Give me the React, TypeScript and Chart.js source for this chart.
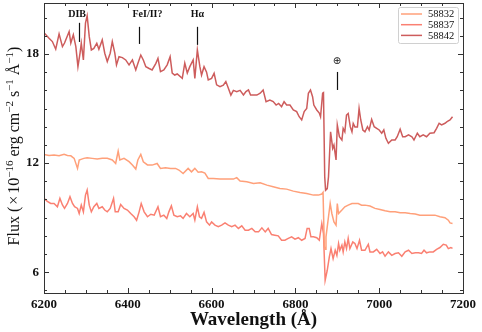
import React, { useEffect, useRef } from "react";
import { Chart, registerables } from "chart.js";

Chart.register(...registerables);

// ---------------- data ----------------
const SERIES_LABELS = ["58832", "58837", "58842"];
const SERIES_COLORS = ["#FFA07A", "#FA8072", "#CD5C5C"];

const WL_58832 = [
  6200, 6212, 6224, 6236, 6248, 6256, 6264, 6272, 6280, 6284, 6290, 6295, 6303, 6315, 6327, 6339, 6351, 6363,
  6371, 6377, 6381, 6391, 6403, 6411, 6419, 6424, 6431, 6437, 6447, 6458, 6470, 6478, 6490, 6502, 6514, 6522,
  6532, 6544, 6552, 6560, 6568, 6576, 6584, 6592, 6604, 6620, 6636, 6652, 6660, 6668, 6684, 6700, 6716, 6732,
  6747, 6763, 6779, 6795, 6811, 6827, 6843, 6855, 6863, 6866, 6869, 6871, 6873, 6879, 6883, 6887, 6892, 6897,
  6900, 6903, 6911, 6918, 6926, 6935, 6942, 6950, 6958, 6966, 6978, 6990, 7002, 7014, 7026, 7038, 7050, 7062,
  7074, 7086, 7097, 7109, 7121, 7133, 7145, 7157, 7165, 7169, 7175,
];
const FLUX_58832 = [
  12.48, 12.42, 12.44, 12.4, 12.48, 12.42, 12.4, 12.26, 11.71, 12.17, 12.22, 12.26, 12.3, 12.26, 12.22, 12.26,
  12.26, 12.17, 11.98, 12.66, 12.17, 12.26, 12.08, 11.89, 11.67, 12.17, 12.48, 12.07, 11.9, 11.89, 11.98, 11.71,
  11.75, 11.71, 11.71, 11.62, 11.43, 11.71, 11.52, 11.71, 11.5, 11.52, 11.45, 11.16, 11.16, 11.12, 11.12, 11.12,
  11.2, 11.01, 10.97, 10.88, 10.92, 10.79, 10.7, 10.61, 10.57, 10.46, 10.39, 10.33, 10.24, 10.24, 10.3, 10.39,
  7.4, 7.27, 7.95, 9.05, 9.78, 9.23, 8.77, 8.59, 9.78, 9.23, 9.42, 9.6, 9.69, 9.78, 9.78, 9.78, 9.69, 9.69, 9.64,
  9.51, 9.45, 9.38, 9.33, 9.33, 9.27, 9.27, 9.23, 9.2, 9.14, 9.14, 9.14, 9.14, 9.05, 9.0, 8.86, 8.71, 8.68,
];

const WL_58837 = [
  6200, 6208, 6216, 6224, 6232, 6238, 6244, 6249, 6256, 6262, 6268, 6273, 6280, 6284, 6289, 6294, 6299, 6303,
  6308, 6313, 6319, 6326, 6331, 6339, 6345, 6351, 6358, 6366, 6370, 6377, 6383, 6391, 6399, 6407, 6415, 6421,
  6427, 6432, 6439, 6447, 6455, 6463, 6472, 6478, 6486, 6493, 6498, 6504, 6510, 6518, 6526, 6532, 6540, 6548,
  6556, 6560, 6566, 6571, 6576, 6582, 6588, 6595, 6600, 6608, 6616, 6624, 6632, 6640, 6648, 6656, 6664, 6672,
  6680, 6688, 6696, 6704, 6712, 6720, 6728, 6735, 6743, 6751, 6759, 6767, 6775, 6783, 6791, 6799, 6807, 6815,
  6823, 6828, 6833, 6837, 6843, 6851, 6857, 6863, 6867, 6871, 6876, 6881, 6885, 6890, 6895, 6899, 6903, 6906,
  6911, 6914, 6918, 6922, 6926, 6930, 6937, 6942, 6947, 6953, 6958, 6966, 6974, 6978, 6986, 6994, 7002, 7008,
  7014, 7022, 7030, 7038, 7046, 7054, 7062, 7070, 7078, 7086, 7094, 7101, 7107, 7113, 7121, 7129, 7137, 7145,
  7153, 7160, 7165, 7171, 7175,
];
const FLUX_58837 = [
  10.06, 9.9, 9.78, 9.78, 9.6, 10.06, 9.7, 9.51, 9.78, 10.15, 9.78, 9.6, 9.51, 9.23, 9.69, 9.32, 10.24, 10.52,
  9.69, 9.32, 9.6, 9.78, 9.51, 9.6, 9.42, 9.32, 9.51, 10.06, 9.32, 9.32, 9.73, 9.51, 9.42, 9.23, 9.05, 8.86,
  9.32, 9.78, 9.32, 9.05, 9.19, 9.14, 9.6, 9.05, 9.14, 8.96, 9.32, 9.65, 9.14, 9.05, 9.1, 8.96, 9.23, 9.05,
  9.23, 8.87, 9.6, 9.05, 8.96, 9.29, 8.77, 8.59, 8.77, 8.59, 8.5, 8.59, 8.71, 8.59, 8.5, 8.59, 8.41, 8.55,
  8.31, 8.31, 8.41, 8.22, 8.22, 8.44, 8.22, 8.41, 8.07, 8.04, 8.0, 7.76, 7.76, 7.86, 7.95, 7.82, 7.9, 7.76,
  7.86, 8.41, 8.41, 7.95, 7.95, 7.9, 7.76, 8.68, 8.13, 5.56, 6.11, 6.84, 7.3, 6.75, 7.21, 6.93, 7.58, 7.21,
  7.49, 7.12, 7.67, 7.3, 7.86, 7.3, 7.67, 7.58, 7.3, 7.76, 7.21, 7.21, 7.54, 7.12, 7.12, 7.26, 7.03, 7.12,
  6.88, 7.12, 6.93, 7.03, 7.07, 6.88, 7.12, 7.21, 7.03, 7.07, 7.07, 7.03, 7.21, 7.07, 7.12, 7.12, 7.26, 7.36,
  7.54, 7.49, 7.3, 7.36, 7.31,
];

const WL_58842 = [
  6200, 6212, 6220, 6228, 6236, 6244, 6249, 6260, 6264, 6270, 6276, 6281, 6286, 6289, 6294, 6299, 6303, 6308,
  6313, 6319, 6326, 6331, 6339, 6345, 6351, 6358, 6363, 6369, 6373, 6379, 6387, 6395, 6403, 6411, 6419, 6424,
  6431, 6437, 6443, 6451, 6458, 6467, 6472, 6478, 6486, 6494, 6501, 6506, 6512, 6518, 6530, 6536, 6542, 6548,
  6556, 6560, 6566, 6572, 6576, 6582, 6588, 6592, 6600, 6606, 6612, 6620, 6628, 6634, 6640, 6646, 6652, 6660,
  6668, 6676, 6682, 6688, 6693, 6700, 6708, 6716, 6723, 6730, 6739, 6747, 6754, 6760, 6767, 6773, 6779, 6787,
  6795, 6803, 6809, 6815, 6821, 6827, 6831, 6836, 6841, 6844, 6851, 6857, 6860, 6865, 6867, 6870, 6872, 6876,
  6879, 6884, 6889, 6892, 6897, 6900, 6905, 6911, 6914, 6918, 6922, 6926, 6931, 6935, 6938, 6942, 6948, 6952,
  6956, 6961, 6966, 6972, 6976, 6982, 6988, 6994, 7000, 7006, 7011, 7016, 7022, 7030, 7038, 7043, 7050, 7056,
  7062, 7070, 7078, 7083, 7091, 7097, 7105, 7113, 7121, 7131, 7137, 7143, 7149, 7157, 7162, 7169, 7175,
];
const FLUX_58842 = [
  19.17, 18.86, 18.68, 18.26, 19.1, 18.4, 18.6, 19.23, 18.6, 19.05, 18.4, 17.3, 18.04, 18.59, 17.67, 19.69,
  20.09, 18.95, 18.22, 18.3, 18.59, 18.26, 18.77, 18.04, 17.58, 18.04, 18.68, 18.04, 17.4, 17.85, 17.8, 17.67,
  17.4, 17.67, 17.12, 17.48, 17.94, 17.67, 17.3, 17.2, 17.12, 17.48, 17.76, 17.03, 17.12, 17.4, 17.85, 16.95,
  16.84, 16.9, 16.66, 17.49, 16.95, 17.3, 17.67, 16.66, 18.22, 17.3, 16.84, 17.3, 17.0, 16.57, 16.66, 16.94,
  16.3, 16.2, 16.28, 16.48, 16.11, 15.74, 16.0, 15.93, 16.0, 15.74, 15.93, 16.02, 15.74, 15.74, 15.74, 15.84,
  16.02, 15.38, 15.47, 15.38, 15.19, 15.28, 15.1, 15.38, 15.19, 15.19, 14.92, 14.83, 14.55, 14.37, 14.83, 15.0,
  15.84, 16.02, 15.65, 15.19, 14.92, 14.75, 14.55, 15.84, 15.87, 11.25, 10.51, 10.6, 11.25, 13.72, 12.81, 12.99,
  12.17, 14.09, 13.45, 13.27, 13.91, 13.72, 14.64, 14.73, 13.99, 13.72, 14.18, 13.99, 13.99, 15.01, 14.37, 13.82,
  13.72, 14.0, 13.82, 14.4, 14.0, 13.91, 13.82, 13.64, 13.82, 13.36, 13.09, 13.27, 13.27, 13.45, 13.86, 13.45,
  13.45, 13.55, 13.45, 13.27, 13.64, 13.45, 13.55, 13.45, 13.64, 13.67, 13.91, 14.19, 14.1, 14.19, 14.28, 14.37,
  14.55,
];

const X_MIN = 6200;
const X_MAX = 7200;
const Y_MIN = 4.86;
const Y_MAX = 20.8;
const X_MAJOR = [6200, 6400, 6600, 6800, 7000, 7200];
const Y_MAJOR = [6, 12, 18];
const X_MINOR_STEP = 50;
const Y_MINOR_STEP = 1;

// feature markers (text position, marker line position in data units)
const MARK_TEXT = ["DIB", "FeI/II?", "H\u03B1", "\u2295"];
const MARK_TEXT_X = [6279, 6447, 6566, 6899];
const MARK_TEXT_Y = [20.15, 20.15, 20.15, 17.61];
const MARK_LINE_X = [6284, 6427, 6565, 6899];
const MARK_LINE_Y0 = [18.66, 18.55, 18.5, 16.02];
const MARK_LINE_Y1 = [19.71, 19.49, 19.49, 17.01];

const SERIES_WL = [WL_58832, WL_58837, WL_58842];
const SERIES_FLUX = [FLUX_58832, FLUX_58837, FLUX_58842];

const SERIF = "'Liberation Serif', 'Times New Roman', serif";

const decorPlugin = {
  id: "decor",
  afterDraw(chart: any) {
    const { ctx, chartArea: a, scales } = chart;
    const xs = scales.x;
    const ys = scales.y;
    ctx.save();

    // frame
    ctx.strokeStyle = "#333";
    ctx.lineWidth = 1;
    ctx.strokeRect(Math.round(a.left) + 0.5, Math.round(a.top) + 0.5, Math.round(a.right - a.left), Math.round(a.bottom - a.top));

    // inward ticks on all four sides
    ctx.beginPath();
    for (let v = X_MIN; v <= X_MAX; v += X_MINOR_STEP) {
      const px = Math.round(xs.getPixelForValue(v)) + 0.5;
      const len = X_MAJOR.includes(v) ? 5 : 3;
      ctx.moveTo(px, a.bottom);
      ctx.lineTo(px, a.bottom - len);
      ctx.moveTo(px, a.top);
      ctx.lineTo(px, a.top + len);
    }
    for (let v = Math.ceil(Y_MIN); v <= Y_MAX; v += Y_MINOR_STEP) {
      const py = Math.round(ys.getPixelForValue(v)) + 0.5;
      const len = Y_MAJOR.includes(v) ? 5 : 3;
      ctx.moveTo(a.left, py);
      ctx.lineTo(a.left + len, py);
      ctx.moveTo(a.right, py);
      ctx.lineTo(a.right - len, py);
    }
    ctx.stroke();

    // feature markers
    ctx.fillStyle = "#111";
    ctx.strokeStyle = "#111";
    ctx.lineWidth = 1.2;
    ctx.textAlign = "center";
    ctx.textBaseline = "middle";
    for (let i = 0; i < MARK_TEXT.length; i++) {
      const isEarth = MARK_TEXT[i] === "\u2295";
      ctx.font = isEarth ? "10px 'DejaVu Sans', sans-serif" : `bold 10px ${SERIF}`;
      ctx.fillText(MARK_TEXT[i], xs.getPixelForValue(MARK_TEXT_X[i]), ys.getPixelForValue(MARK_TEXT_Y[i]));
      const lx = Math.round(xs.getPixelForValue(MARK_LINE_X[i])) + 0.5;
      ctx.beginPath();
      ctx.moveTo(lx, ys.getPixelForValue(MARK_LINE_Y0[i]));
      ctx.lineTo(lx, ys.getPixelForValue(MARK_LINE_Y1[i]));
      ctx.stroke();
    }

    // legend (upper right)
    const bw = 60;
    const bh = 36;
    const bx = a.right - 5 - bw;
    const by = a.top + 4;
    ctx.beginPath();
    ctx.roundRect(bx + 0.5, by + 0.5, bw, bh, 2);
    ctx.fillStyle = "rgba(255,255,255,0.85)";
    ctx.fill();
    ctx.strokeStyle = "#d0d0d0";
    ctx.lineWidth = 1;
    ctx.stroke();
    ctx.font = `10.5px ${SERIF}`;
    ctx.textAlign = "left";
    ctx.textBaseline = "middle";
    chart.data.datasets.forEach((ds: any, i: number) => {
      const ry = by + 7 + i * 10.7;
      ctx.strokeStyle = ds.borderColor;
      ctx.lineWidth = 1.5;
      ctx.beginPath();
      ctx.moveTo(bx + 3, ry);
      ctx.lineTo(bx + 24, ry);
      ctx.stroke();
      ctx.fillStyle = "#111";
      ctx.fillText(ds.label, bx + 30, ry + 0.5);
    });

    // x axis title
    ctx.fillStyle = "#111";
    ctx.font = `bold 19px ${SERIF}`;
    ctx.textAlign = "center";
    ctx.textBaseline = "middle";
    ctx.fillText("Wavelength (\u00C5)", (a.left + a.right) / 2, 320);

    // y axis title with superscripts
    const segs: { t: string; sup?: boolean; pad?: number }[] = [
      { t: "Flux (" },
      { t: "\u00D7", pad: 2 },
      { t: "10" },
      { t: "\u221216", sup: true },
      { t: " erg cm" },
      { t: "\u22122", sup: true },
      { t: " s" },
      { t: "\u22121", sup: true },
      { t: " \u00C5" },
      { t: "\u22121", sup: true },
      { t: ")" },
    ];
    const mainFont = `16px ${SERIF}`;
    const supFont = `11px ${SERIF}`;
    let total = 0;
    const widths = segs.map((s) => {
      ctx.font = s.sup ? supFont : mainFont;
      const w = ctx.measureText(s.t).width + 2 * (s.pad || 0);
      total += w;
      return w;
    });
    ctx.save();
    ctx.translate(19, (a.top + a.bottom) / 2 - 2);
    ctx.rotate(-Math.PI / 2);
    ctx.textAlign = "left";
    ctx.textBaseline = "alphabetic";
    let cx = -total / 2;
    segs.forEach((s, i) => {
      ctx.font = s.sup ? supFont : mainFont;
      ctx.fillText(s.t, cx + (s.pad || 0), s.sup ? -6 : 0);
      cx += widths[i];
    });
    ctx.restore();

    ctx.restore();
  },
};

export default function App() {
  const ref = useRef<HTMLCanvasElement | null>(null);

  useEffect(() => {
    if (!ref.current) return;
    const datasets = SERIES_LABELS.map((label, i) => ({
      label,
      data: SERIES_WL[i].map((w, j) => ({ x: w, y: SERIES_FLUX[i][j] })),
      borderColor: SERIES_COLORS[i],
      backgroundColor: SERIES_COLORS[i],
      borderWidth: 1.5,
      pointRadius: 0,
      tension: 0,
      fill: false,
    }));
    const chart = new Chart(ref.current, {
      type: "line",
      data: { datasets },
      options: {
        animation: false,
        responsive: false,
        devicePixelRatio: 1,
        layout: { padding: { top: 3, right: 19, left: 0, bottom: 0 } },
        plugins: { legend: { display: false }, tooltip: { enabled: false }, title: { display: false } },
        scales: {
          x: {
            type: "linear",
            min: X_MIN,
            max: X_MAX,
            afterBuildTicks: (s: any) => {
              s.ticks = X_MAJOR.map((v) => ({ value: v }));
            },
            afterFit: (s: any) => {
              s.height = 39;
              s.paddingLeft = 0;
              s.paddingRight = 0;
            },
            grid: { display: false, drawTicks: false },
            border: { display: false },
            ticks: {
              padding: 4,
              color: "#111",
              maxRotation: 0,
              font: { family: SERIF, size: 13, weight: "bold" },
              callback: (v: any) => String(v),
            },
          },
          y: {
            type: "linear",
            min: Y_MIN,
            max: Y_MAX,
            afterBuildTicks: (s: any) => {
              s.ticks = Y_MAJOR.map((v) => ({ value: v }));
            },
            afterFit: (s: any) => {
              s.width = 44;
              s.paddingTop = 0;
              s.paddingBottom = 0;
            },
            grid: { display: false, drawTicks: false },
            border: { display: false },
            ticks: {
              padding: 5,
              color: "#111",
              font: { family: SERIF, size: 13, weight: "bold" },
              callback: (v: any) => String(v),
            },
          },
        },
      },
      plugins: [decorPlugin],
    } as any);
    return () => chart.destroy();
  }, []);

  return (
    <div style={{ position: "fixed", left: 0, top: 0, width: 482, height: 332, background: "#fff" }}>
      <canvas ref={ref} width={482} height={332} style={{ width: 482, height: 332, display: "block" }} />
    </div>
  );
}
